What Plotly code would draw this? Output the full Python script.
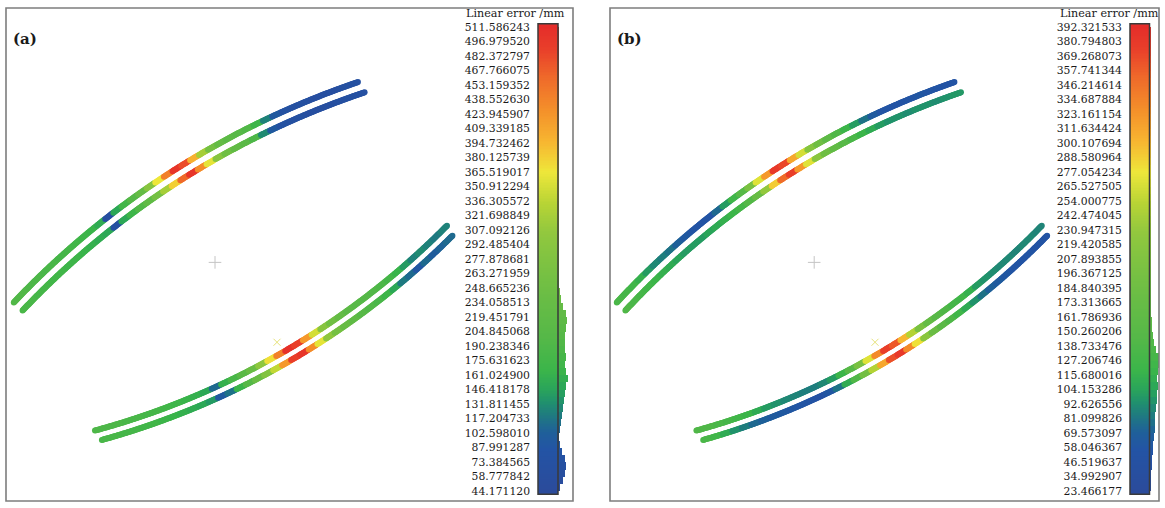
import numpy as np
import plotly.graph_objects as go

W, H = 1165, 508

# ---------------- data ----------------
ticks_a = [511.586243, 496.979520, 482.372797, 467.766075, 453.159352, 438.552630,
           423.945907, 409.339185, 394.732462, 380.125739, 365.519017, 350.912294,
           336.305572, 321.698849, 307.092126, 292.485404, 277.878681, 263.271959,
           248.665236, 234.058513, 219.451791, 204.845068, 190.238346, 175.631623,
           161.024900, 146.418178, 131.811455, 117.204733, 102.598010, 87.991287,
           73.384565, 58.777842, 44.171120]
ticks_b = [392.321533, 380.794803, 369.268073, 357.741344, 346.214614, 334.687884,
           323.161154, 311.634424, 300.107694, 288.580964, 277.054234, 265.527505,
           254.000775, 242.474045, 230.947315, 219.420585, 207.893855, 196.367125,
           184.840395, 173.313665, 161.786936, 150.260206, 138.733476, 127.206746,
           115.680016, 104.153286, 92.626556, 81.099826, 69.573097, 58.046367,
           46.519637, 34.992907, 23.466177]

# linear error sampled along each arc (40 samples, from the left end to the right end)
err_a_upper_outer = [195, 195, 190, 190, 185, 185, 180, 180, 175, 170, 165, 155, 65, 150, 175, 200,
                     230, 290, 365, 440, 500, 480, 400, 320, 260, 230, 215, 205, 195, 170, 125, 95,
                     75, 70, 70, 65, 65, 65, 70, 70]
err_a_upper_inner = [185, 185, 180, 180, 175, 175, 170, 170, 165, 160, 155, 150, 70, 150, 170, 195,
                     220, 260, 320, 380, 460, 500, 430, 360, 290, 250, 225, 210, 190, 130, 95, 75,
                     70, 70, 65, 65, 65, 68, 70, 72]
err_a_lower_outer = [190, 190, 190, 185, 185, 180, 180, 175, 170, 165, 160, 150, 110, 160, 185, 210,
                     240, 300, 370, 440, 505, 490, 420, 350, 290, 250, 230, 215, 205, 200, 195, 190,
                     180, 165, 140, 125, 130, 125, 120, 125]
err_a_lower_inner = [185, 185, 180, 180, 175, 175, 170, 165, 160, 155, 150, 140, 95, 115, 165, 200,
                     240, 280, 340, 420, 490, 500, 430, 360, 300, 260, 235, 220, 205, 195, 185, 170,
                     150, 120, 110, 90, 110, 100, 105, 110]

err_b_upper_outer = [135, 130, 125, 115, 100, 90, 85, 80, 70, 62, 58, 55, 55, 75, 100, 125,
                     150, 200, 270, 320, 380, 370, 310, 265, 215, 185, 160, 140, 120, 100, 80, 65,
                     58, 55, 55, 58, 60, 58, 55, 55]
err_b_upper_inner = [140, 135, 130, 125, 120, 115, 110, 105, 100, 100, 100, 105, 110, 115, 120, 130,
                     145, 175, 230, 290, 350, 375, 320, 270, 220, 185, 165, 150, 135, 120, 110, 100,
                     95, 95, 92, 95, 95, 92, 95, 98]
err_b_lower_outer = [140, 140, 135, 130, 125, 120, 110, 100, 95, 90, 88, 85, 85, 90, 100, 120,
                     150, 200, 270, 330, 375, 360, 300, 250, 200, 170, 150, 140, 130, 125, 115, 100,
                     95, 92, 90, 90, 88, 90, 90, 88]
err_b_lower_inner = [135, 125, 110, 95, 85, 75, 70, 65, 62, 60, 58, 55, 50, 60, 80, 110,
                     140, 190, 250, 310, 365, 380, 330, 280, 220, 180, 155, 140, 125, 110, 95, 80,
                     70, 65, 60, 58, 55, 58, 55, 55]

# histogram counts (64 equal bins spanning each colour scale, low -> high)
hist_a = [2, 5, 7, 8, 7, 4, 1.5, 1, 1.5, 2.5, 4, 5, 5.5, 7, 7.5, 10,
          8, 7, 7.5, 7, 6.5, 7, 8, 9, 8, 5, 3, 1.5, 0.8, 0.5, 0.4, 0.3,
          0.3, 0.2, 0.2, 0.2, 0.2, 0.2, 0.2, 0.2, 0.2, 0.2, 0.2, 0.2, 0.2, 0.2, 0.2, 0.2,
          0.2, 0.2, 0.2, 0.2, 0.2, 0.2, 0.2, 0.2, 0.3, 0.3, 0.3, 0.3, 0.3, 0.3, 0.3, 0.3]
hist_b = [0.3, 0.6, 1, 1.3, 2, 2.5, 3.3, 4, 4.5, 4.8, 5, 6, 6.7, 7, 7.5, 7.3,
          7.5, 8.5, 9, 6, 4, 2.5, 2, 1.5, 1, 0.6, 0.4, 0.3, 0.3, 0.2, 0.2, 0.2,
          0.2, 0.2, 0.2, 0.2, 0.2, 0.2, 0.2, 0.2, 0.2, 0.2, 0.2, 0.2, 0.2, 0.2, 0.2, 0.2,
          0.2, 0.2, 0.2, 0.2, 0.2, 0.2, 0.2, 0.2, 0.2, 0.2, 0.2, 0.2, 0.3, 0.3, 0.3, 0.3]

# reference markers (centre cross and point cross)
centre_x, centre_y = [215], [263]
point_x, point_y = [277], [344]

# ---------------- geometry / style ----------------
# arcs: centre x, centre y, radius, start angle, end angle (deg), in panel pixel frame (y down)
arc_geom = {
    "upper_outer": (634, 882, 848, -137.0, -109.0),
    "upper_inner": (634, 882, 836, -137.0, -108.8),
    "lower_outer": (-112.7, -320.4, 782, 74.6, 44.3),
    "lower_inner": (-112.7, -320.4, 793, 74.3, 44.55),
}

colorscale = [[0.0, '#2b4b9b'], [0.09, '#2354a5'], [0.125, '#1f5f9a'], [0.156, '#1f7585'],
              [0.19, '#20906e'], [0.22, '#2aa55a'], [0.26, '#3bb54a'], [0.33, '#55b848'],
              [0.42, '#6abd45'], [0.50, '#80c341'], [0.56, '#93c83e'], [0.62, '#b8d435'],
              [0.687, '#eee73a'], [0.75, '#f7b731'], [0.82, '#f4902a'], [0.89, '#ef6a2a'],
              [0.95, '#e9402a'], [1.0, '#e52d2a']]

FONT = "DejaVu Serif"
PTS_PER_SAMPLE = 10

fig = go.Figure()


def add_arc(name, values, xa, ya, cax):
    cx, cy, r, a0, a1 = arc_geom[name]
    n = len(values) * PTS_PER_SAMPLE
    ang = np.deg2rad(np.linspace(a0, a1, n))
    fig.add_trace(go.Scatter(
        x=cx + r * np.cos(ang), y=cy + r * np.sin(ang), mode="markers",
        marker=dict(size=6, color=np.repeat(values, PTS_PER_SAMPLE), coloraxis=cax, line=dict(width=0)),
        xaxis=xa, yaxis=ya, hoverinfo="skip", showlegend=False))


def add_panel(arcs, ticks, hist, xa, ya, xc, yc, xh, cax):
    for name, vals in arcs.items():
        add_arc(name, vals, xa, ya, cax)
    fig.add_trace(go.Scatter(x=centre_x, y=centre_y, mode="markers",
                             marker=dict(symbol="cross-thin", size=9, line=dict(color="#c4c4c4", width=1)),
                             xaxis=xa, yaxis=ya, hoverinfo="skip", showlegend=False))
    fig.add_trace(go.Scatter(x=point_x, y=point_y, mode="markers",
                             marker=dict(symbol="x-thin", size=7, line=dict(color="#e6e27a", width=1)),
                             xaxis=xa, yaxis=ya, hoverinfo="skip", showlegend=False))
    vmin, vmax = min(ticks), max(ticks)
    pad = (vmax - vmin) * 0.0068
    yy = np.linspace(vmin - pad, vmax + pad, 300)
    fig.add_trace(go.Heatmap(x=[0], y=yy, z=[[v] for v in yy], coloraxis=cax,
                             xaxis=xc, yaxis=yc, hoverinfo="skip"))
    edges = np.linspace(vmin, vmax, len(hist) + 1)
    centres = (edges[:-1] + edges[1:]) / 2
    fig.add_trace(go.Bar(x=hist, y=centres, orientation="h", width=edges[1] - edges[0],
                         marker=dict(color=centres, coloraxis=cax, line=dict(width=0)),
                         xaxis=xh, yaxis=yc, hoverinfo="skip", showlegend=False))
    return vmin - pad, vmax + pad


lo_a, hi_a = add_panel({"upper_outer": err_a_upper_outer, "upper_inner": err_a_upper_inner,
                        "lower_outer": err_a_lower_outer, "lower_inner": err_a_lower_inner},
                       ticks_a, hist_a, "x", "y", "x3", "y3", "x5", "coloraxis")
lo_b, hi_b = add_panel({"upper_outer": err_b_upper_outer, "upper_inner": err_b_upper_inner,
                        "lower_outer": err_b_lower_outer, "lower_inner": err_b_lower_inner},
                       ticks_b, hist_b, "x2", "y2", "x4", "y4", "x6", "coloraxis2")


def px_x(a, b):
    return [a / W, b / W]


def px_y(top, bottom):
    return [1 - bottom / H, 1 - top / H]


hidden = dict(visible=False, showgrid=False, zeroline=False)
tickfont = dict(family=FONT, size=10.8, color="#1a1a1a")


def cbar_axis(ticks, lo, hi, anchor):
    return dict(domain=px_y(21, 498), range=[lo, hi], anchor=anchor, side="left",
                tickvals=ticks, ticktext=["%.6f" % t for t in ticks], ticks="",
                ticklabelstandoff=7, showgrid=False, zeroline=False, showline=False,
                tickfont=tickfont)


fig.update_layout(
    width=W, height=H, margin=dict(l=0, r=0, t=0, b=0),
    paper_bgcolor="white", plot_bgcolor="rgba(0,0,0,0)", showlegend=False, bargap=0,
    coloraxis=dict(colorscale=colorscale, cmin=min(ticks_a), cmax=max(ticks_a), showscale=False),
    coloraxis2=dict(colorscale=colorscale, cmin=min(ticks_b), cmax=max(ticks_b), showscale=False),
    xaxis=dict(domain=px_x(8, 458), range=[8, 458], anchor="y", **hidden),
    yaxis=dict(domain=px_y(6, 504), range=[504, 6], anchor="x", **hidden),
    xaxis2=dict(domain=px_x(611.1, 1052.6), range=[8, 458], anchor="y2", **hidden),
    yaxis2=dict(domain=px_y(6, 504), range=[504, 6], anchor="x2", **hidden),
    xaxis3=dict(domain=px_x(538, 558), range=[-0.5, 0.5], anchor="y3", **hidden),
    yaxis3=cbar_axis(ticks_a, lo_a, hi_a, "x3"),
    xaxis4=dict(domain=px_x(1130, 1149.5), range=[-0.5, 0.5], anchor="y4", **hidden),
    yaxis4=cbar_axis(ticks_b, lo_b, hi_b, "x4"),
    xaxis5=dict(domain=px_x(558, 572), range=[0, 14], anchor="y3", **hidden),
    xaxis6=dict(domain=px_x(1149.5, 1159), range=[0, 9.5], anchor="y4", **hidden),
)

# panel frames and colour-bar outlines
for x0, x1 in [(6, 573), (610, 1159)]:
    fig.add_shape(type="rect", xref="paper", yref="paper", x0=x0 / W, x1=x1 / W,
                  y0=1 - 505 / H, y1=1 - 5 / H, line=dict(color="#7d7d7d", width=1.6), layer="above")
for xr, yr in [("x3", "y3"), ("x4", "y4")]:
    fig.add_shape(type="rect", xref=xr + " domain", yref=yr + " domain", x0=0, x1=1, y0=0, y1=1,
                  line=dict(color="#3a3a3a", width=1.5), layer="above")

# labels
for txt, x in [("Linear error /mm", 515), ("Linear error /mm", 1109)]:
    fig.add_annotation(text=txt, xref="paper", yref="paper", x=x / W, y=1 - 11 / H,
                       showarrow=False, font=dict(family=FONT, size=11.2, color="#1a1a1a"),
                       xanchor="center", yanchor="middle")
for txt, x in [("(a)", 25), ("(b)", 629)]:
    fig.add_annotation(text="<b>%s</b>" % txt, xref="paper", yref="paper", x=x / W, y=1 - 36 / H,
                       showarrow=False, font=dict(family=FONT, size=15, color="#1a1a1a"),
                       xanchor="center", yanchor="middle")

fig.write_html("out.html", config={"displayModeBar": False},
               post_script="document.body.style.margin='0px';")
